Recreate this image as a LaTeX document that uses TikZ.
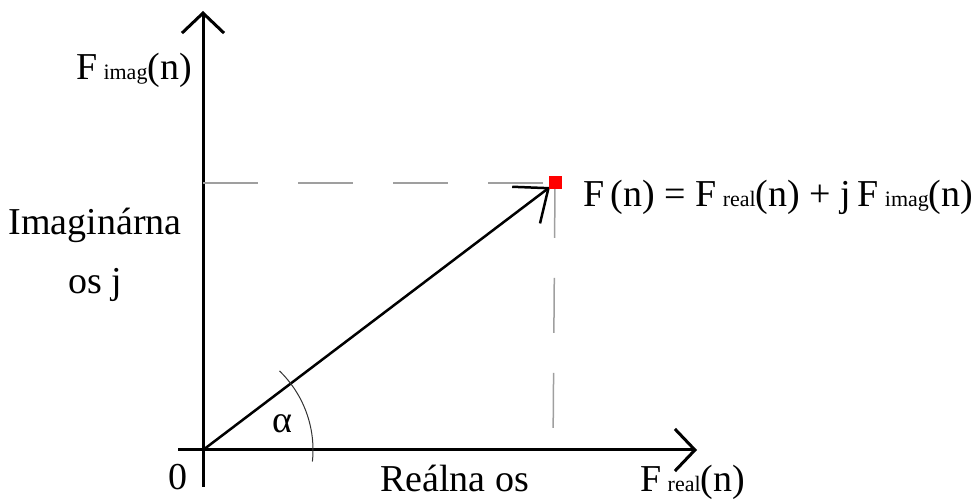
\documentclass[tikz,border=0pt]{standalone}
\usepackage{fontspec}
\setmainfont{Liberation Serif}
\usetikzlibrary{arrows.meta}

\newcommand{\lowtxt}[1]{\,{\fontsize{22}{22}\selectfont #1}}

\begin{document}
\begin{tikzpicture}[
  x=1pt,y=1pt,
  font=\fontsize{38}{59}\selectfont,
  axis/.style={line width=3pt,-{Straight Barb[length=20pt,width=42pt]}},
  vec/.style={line width=2.5pt,-{Straight Barb[length=28pt,width=46pt]}},
  guide/.style={gray!75,line width=1.5pt,dash pattern=on 55pt off 40pt},
  dotbox/.style={fill=red,minimum size=13pt,inner sep=0pt},
  txt/.style={inner sep=0pt}
]
\useasboundingbox (0,0) rectangle (976,500);

% axes
\coordinate (O) at (203,50);
\coordinate (ybot) at (203,13);
\coordinate (ytop) at (203,489);
\coordinate (xleft) at (178,50);
\coordinate (xright) at (697,50);
\draw[axis] (ybot) -- (ytop);
\draw[axis] (xleft) -- (xright);

% point and its projections
\coordinate (Pc) at (555,317);
\coordinate (Ptip) at (550,313);
\coordinate (Py) at (203,317);
\coordinate (Px) at (553,50);
\draw[guide] (Py) -- (Pc);
\draw[guide] (Pc) -- (Px);
\draw[vec] (O) -- (Ptip);
\node[dotbox] (P) at (Pc) {};

% angle
\draw[line width=1pt,black!80] ([shift={(-6:110)}]O) arc[start angle=-6,end angle=46,radius=110];
\node[txt] (alpha) at (282,76) {α};

% labels
\node[txt,anchor=base east] (zero) at (188,10) {0};
\node[txt,anchor=base east] (fimag) at (192,420) {F\lowtxt{imag}(n)};
\node[txt,anchor=north,align=center] (imagos) at (95,292) {Imaginárna\\os j};
\node[txt,anchor=base west] (fn) at (583,293)
  {F\,(n) = F\lowtxt{real}(n) + j\,F\lowtxt{imag}(n)};
\node[txt,anchor=base west] (realos) at (380,8) {Reálna os};
\node[txt,anchor=base west] (freal) at (640,8) {F\lowtxt{real}(n)};
\end{tikzpicture}
\end{document}
